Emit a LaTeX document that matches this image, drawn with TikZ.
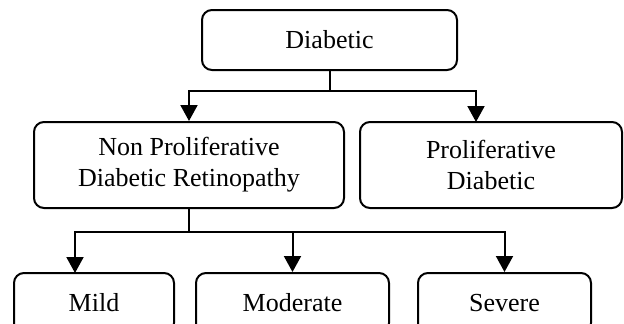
\documentclass[tikz,border=0pt]{standalone}
\usepackage{fontspec}
\setmainfont{Liberation Serif}
\usetikzlibrary{arrows.meta, positioning}
\tikzset{box/.style={draw, line width=2pt, rounded corners=10pt, align=center, inner sep=0pt, font=\fontsize{26}{31}\selectfont}}

\begin{document}
\begin{tikzpicture}[x=1pt,y=-1pt,>={Triangle[length=16pt,width=17pt]}, line width=2pt]

\useasboundingbox (0,0) rectangle (624,324);
\clip (0,0) rectangle (624,324);

% The boxes
\node[box, minimum width=255pt, minimum height=60pt] (diab) at (329.5,40) {Diabetic};
\node[box, minimum width=310pt, minimum height=86pt] (npdr) at (189,165) {Non Proliferative\\Diabetic Retinopathy};
\node[box, minimum width=262pt, minimum height=86pt] (prol) at (491,165) {Proliferative\\Diabetic};
\node[box, minimum width=160pt, minimum height=60pt] (mild) at (94,303) {Mild};
\node[box, minimum width=193pt, minimum height=60pt] (moder) at (292.5,303) {Moderate};
\node[box, minimum width=173pt, minimum height=60pt] (sev) at (504.5,303) {Severe};

% Split points
\coordinate (split1) at (329.5,91);
\coordinate (prolin) at (476,122);
\coordinate (split2) at (189,232);
\coordinate (mildin) at (75,273);

% First level arrows
\draw (diab.south) -- (split1);
\draw[->] (split1) -| (npdr.north);
\draw[->] (split1) -| (prolin);

% Second level arrows
\draw (npdr.south) -- (split2);
\draw[->] (split2) -| (mildin);
\draw[->] (split2) -| (moder.north);
\draw[->] (split2) -| (sev.north);

\end{tikzpicture}
\end{document}
